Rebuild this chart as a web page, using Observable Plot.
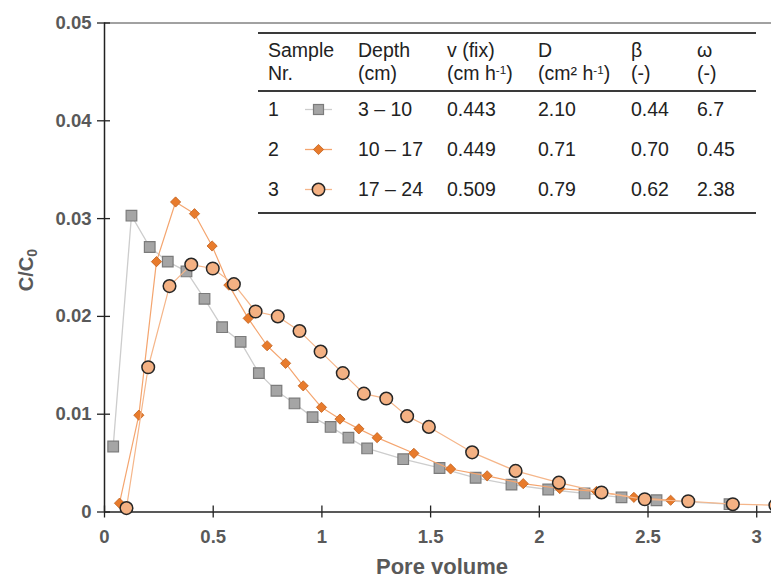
<!DOCTYPE html>
<html>
<head>
<meta charset="utf-8">
<script src="https://cdn.jsdelivr.net/npm/d3@7"></script>
<script src="https://cdn.jsdelivr.net/npm/@observablehq/plot@0.6"></script>
<style>
  body { margin: 0; background: #fff; font-family: "Liberation Sans", Arial, sans-serif; }
  #wrap { position: relative; width: 771px; height: 578px; overflow: hidden; background: #fff; }
  #wrap svg { position: absolute; left: 0; top: 0; }
  .rule { position: absolute; left: 258px; width: 498px; height: 2px; background: #3a3a3a; }
  .cell { position: absolute; font-size: 19.5px; color: #222; white-space: nowrap; line-height: 23px; }
  .cell sup { font-size: 0.6em; vertical-align: 0.55em; line-height: 0; }
</style>
</head>
<body>
<div id="wrap"></div>
<script>
// ---- Series data (pore volume, C/C0) ----
const s1x = [0.040,0.124,0.208,0.291,0.377,0.460,0.541,0.626,0.710,0.791,0.874,0.957,1.040,1.122,1.208,1.374,1.541,1.707,1.872,2.041,2.208,2.378,2.539,2.875];
const s1y = [0.0067,0.0303,0.0271,0.0256,0.0246,0.0218,0.0189,0.0174,0.0142,0.0124,0.0111,0.0097,0.0087,0.0076,0.0065,0.0054,0.0045,0.0035,0.0028,0.0023,0.0019,0.0015,0.0012,0.0008];
const s2x = [0.069,0.158,0.239,0.327,0.414,0.495,0.572,0.661,0.748,0.833,0.914,0.998,1.083,1.170,1.254,1.423,1.592,1.760,1.926,2.094,2.263,2.435,2.604];
const s2y = [0.0009,0.0099,0.0256,0.0317,0.0305,0.0272,0.0232,0.0198,0.0170,0.0152,0.0129,0.0107,0.0095,0.0085,0.0076,0.0060,0.0044,0.0037,0.0029,0.0024,0.0021,0.0015,0.0012];
const s3x = [0.101,0.201,0.299,0.399,0.498,0.595,0.695,0.797,0.897,0.994,1.096,1.193,1.296,1.392,1.492,1.691,1.891,2.090,2.286,2.485,2.685,2.890,3.086];
const s3y = [0.0004,0.0148,0.0231,0.0253,0.0249,0.0233,0.0205,0.0200,0.0185,0.0164,0.0142,0.0121,0.0116,0.0098,0.0087,0.0061,0.0042,0.0030,0.0020,0.0013,0.0011,0.0008,0.0007];

// ---- Axis ticks ----
const xTicks = [0, 0.5, 1, 1.5, 2, 2.5, 3];
const xTickLabels = ["0", "0.5", "1", "1.5", "2", "2.5", "3"];
const yTicks = [0, 0.01, 0.02, 0.03, 0.04, 0.05];
const yTickLabels = ["0", "0.01", "0.02", "0.03", "0.04", "0.05"];
const xTitle = "Pore volume";

// ---- Table data ----
const sampleNr = ["1", "2", "3"];
const depths = ["3 \u2013 10", "10 \u2013 17", "17 \u2013 24"];
const vFix = ["0.443", "0.449", "0.509"];
const dispD = ["2.10", "0.71", "0.79"];
const beta = ["0.44", "0.70", "0.62"];
const omega = ["6.7", "0.45", "2.38"];

const toRows = (xs, ys) => xs.map((x, i) => ({x, y: ys[i]}));
const s1 = toRows(s1x, s1y), s2 = toRows(s2x, s2y), s3 = toRows(s3x, s3y);

const st = {
  s1: {line: "#cdcdcd", fill: "#a5a5a5", stroke: "#7b7b7b"},
  s2: {line: "#f4a56f", fill: "#e87b2c", stroke: "#c0601c"},
  s3: {line: "#f5b68a", fill: "#f4b183", stroke: "#262626"}
};

const TICK_FS = 18.5;

const chart = Plot.plot({
  width: 771,
  height: 578,
  marginLeft: 104,
  marginRight: 0,
  marginTop: 22.5,
  marginBottom: 66.5,
  x: {domain: [0, 3.068]},
  y: {domain: [0, 0.05]},
  style: {fontFamily: "'Liberation Sans', Arial, sans-serif", background: "#fff", overflow: "visible"},
  marks: [
    Plot.ruleY([0.05], {stroke: "#444", strokeWidth: 1}),
    Plot.axisX({ticks: xTicks, tickSize: 6, tickPadding: 12, tickFormat: d => xTickLabels[xTicks.indexOf(d)],
      fontWeight: "bold", fill: "#595959", stroke: "#222", strokeWidth: 1.3, label: null, ariaLabel: "xticklabels"}),
    Plot.axisX({ticks: xTicks, tickSize: 6, dy: -6, fill: "none", stroke: "#222", strokeWidth: 1.3, label: null}),
    Plot.axisY({ticks: yTicks, tickSize: 7, tickPadding: 6, tickFormat: d => yTickLabels[yTicks.indexOf(d)],
      fontWeight: "bold", fill: "#595959", stroke: "#222", strokeWidth: 1.3, label: null}),
    Plot.axisY({ticks: yTicks, tickSize: 6, dx: 6, fill: "none", stroke: "#222", strokeWidth: 1.3, label: null}),
    Plot.ruleY([0], {stroke: "#222", strokeWidth: 1.5}),
    Plot.ruleX([0], {stroke: "#222", strokeWidth: 1.5}),
    Plot.text([xTitle], {frameAnchor: "bottom", dy: 55, dx: 4, lineAnchor: "middle", fontSize: 22, fontWeight: "bold", fill: "#595959"}),
    Plot.line(s1, {x: "x", y: "y", stroke: st.s1.line, strokeWidth: 1.3}),
    Plot.dot(s1, {x: "x", y: "y", symbol: "square", r: 6, fill: st.s1.fill, stroke: st.s1.stroke, strokeWidth: 1.2}),
    Plot.line(s2, {x: "x", y: "y", stroke: st.s2.line, strokeWidth: 1.2}),
    Plot.dot(s2, {x: "x", y: "y", symbol: "diamond2", r: 4.6, fill: st.s2.fill, stroke: st.s2.stroke, strokeWidth: 0.8}),
    Plot.line(s3, {x: "x", y: "y", stroke: st.s3.line, strokeWidth: 1.2}),
    Plot.dot(s3, {x: "x", y: "y", r: 6.3, fill: st.s3.fill, stroke: st.s3.stroke, strokeWidth: 1.5})
  ]
});

const wrap = document.getElementById("wrap");
wrap.appendChild(chart);

// enforce tick-label font size directly on the text elements
const tickLabelSet = new Set([...xTickLabels, ...yTickLabels]);
d3.select(chart).selectAll("text").each(function () {
  if (this.closest("g") && tickLabelSet.has(this.textContent) && this.parentNode.getAttribute("aria-label") !== null
      && /tick/.test(this.parentNode.getAttribute("aria-label") || "")) {
    this.style.fontSize = TICK_FS + "px";
    this.style.fontWeight = "bold";
  }
});

// y-axis title with subscript
const yt = d3.select(chart).append("text")
  .attr("transform", "translate(33,270) rotate(-90)")
  .attr("text-anchor", "middle")
  .attr("font-size", 20).attr("font-weight", "bold").attr("fill", "#595959")
  .attr("font-family", "'Liberation Sans', Arial, sans-serif");
yt.append("tspan").text("C/C");
yt.append("tspan").attr("font-size", 14).attr("dy", 4).text("0");

// ---- Table overlay ----
function addDiv(cls, css, html) {
  const d = document.createElement("div");
  d.className = cls;
  Object.assign(d.style, css);
  if (html != null) d.innerHTML = html;
  wrap.appendChild(d);
  return d;
}
addDiv("rule", {top: "32px"});
addDiv("rule", {top: "90px"});
addDiv("rule", {top: "212px"});

const colX = {nr: 268, sym: 318, depth: 358, v: 447, d: 538, b: 631, w: 697};
const head = [
  [colX.nr, "Sample<br>Nr."],
  [colX.depth, "Depth<br>(cm)"],
  [colX.v, "v (fix)<br>(cm h<sup>-1</sup>)"],
  [colX.d, "D<br>(cm\u00b2 h<sup>-1</sup>)"],
  [colX.b, "\u03b2<br>(-)"],
  [colX.w, "\u03c9<br>(-)"]
];
head.forEach(([x, h]) => addDiv("cell", {left: x + "px", top: "38.5px"}, h));

const rowY = [109.5, 149, 189];
const symKeys = ["s1", "s2", "s3"];
function symbolSvg(k) {
  const c = st[k];
  let shape;
  if (k === "s1") shape = `<rect x="8.5" y="2.5" width="10" height="10" fill="${c.fill}" stroke="${c.stroke}" stroke-width="1.2"/>`;
  else if (k === "s2") shape = `<path d="M13.5,2.4L18.6,7.5L13.5,12.6L8.4,7.5Z" fill="${c.fill}" stroke="${c.stroke}" stroke-width="0.8"/>`;
  else shape = `<circle cx="13.5" cy="7.5" r="6.2" fill="${c.fill}" stroke="${c.stroke}" stroke-width="1.5"/>`;
  return `<svg width="27" height="15" style="display:block"><line x1="0" x2="27" y1="7.5" y2="7.5" stroke="${c.line}" stroke-width="1.3"/>${shape}</svg>`;
}
sampleNr.forEach((nr, i) => {
  const top = (rowY[i] - 11.5) + "px";
  addDiv("cell", {left: colX.nr + "px", top}, nr);
  addDiv("cell", {left: (colX.sym - 13.5) + "px", top: (rowY[i] - 7.5) + "px", lineHeight: "15px"}, symbolSvg(symKeys[i]));
  addDiv("cell", {left: colX.depth + "px", top}, depths[i]);
  addDiv("cell", {left: colX.v + "px", top}, vFix[i]);
  addDiv("cell", {left: colX.d + "px", top}, dispD[i]);
  addDiv("cell", {left: colX.b + "px", top}, beta[i]);
  addDiv("cell", {left: colX.w + "px", top}, omega[i]);
});
</script>
</body>
</html>
